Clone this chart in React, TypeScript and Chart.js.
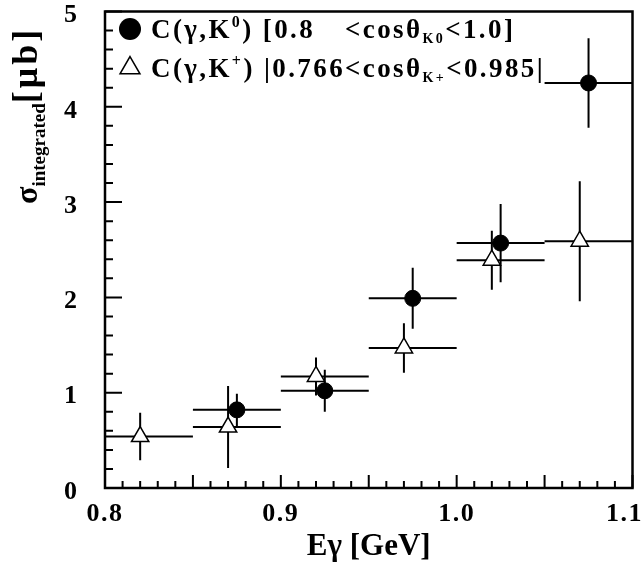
import React, { useEffect, useRef } from 'react';
import { Chart, registerables } from 'chart.js';

Chart.register(...registerables);

// ---- data ----
const K0_E = [0.875, 0.925, 0.975, 1.025, 1.075];
const K0_SIGMA = [0.82, 1.02, 1.99, 2.57, 4.25];
const K0_ERR = [0.17, 0.22, 0.32, 0.41, 0.47];
const K0_BIN_LO = [0.85, 0.9, 0.95, 1.0, 1.05];
const K0_BIN_HI = [0.9, 0.95, 1.0, 1.05, 1.1];

const KP_E = [0.82, 0.87, 0.92, 0.97, 1.02, 1.07];
const KP_SIGMA = [0.54, 0.64, 1.17, 1.47, 2.39, 2.59];
const KP_ERR = [0.25, 0.43, 0.2, 0.26, 0.31, 0.63];
const KP_BIN_LO = [0.8, 0.85, 0.9, 0.95, 1.0, 1.05];
const KP_BIN_HI = [0.85, 0.9, 0.95, 1.0, 1.05, 1.1];

const X_TICKS = [0.8, 0.9, 1.0, 1.1];
const X_TICK_LABELS = ['0.8', '0.9', '1.0', '1.1'];
const Y_TICK_LABELS = ['0', '1', '2', '3', '4', '5'];

const X_TITLE = 'Eγ [GeV]';
const Y_TITLE_MAIN = 'σ';
const Y_TITLE_SUB = 'integrated';
const Y_TITLE_UNIT = '[μb]';

const SERIF = '"Liberation Serif", "Times New Roman", serif';

type Run = { t: string; s: number; dy: number };

function drawRuns(ctx: CanvasRenderingContext2D, x: number, y: number, runs: Run[], spacing: number) {
  const xs: number[] = [];
  let cx = x;
  for (const r of runs) {
    xs.push(cx);
    ctx.font = `bold ${r.s}px ${SERIF}`;
    (ctx as any).letterSpacing = `${spacing}px`;
    ctx.fillText(r.t, cx, y + r.dy);
    cx += ctx.measureText(r.t).width;
  }
  xs.push(cx);
  (ctx as any).letterSpacing = '0px';
  return xs;
}

const errorBarPlugin = {
  id: 'errorBars',
  beforeDatasetsDraw(chart: any) {
    const { ctx } = chart;
    const xs = chart.scales.x;
    const ys = chart.scales.y;
    ctx.save();
    ctx.strokeStyle = '#000';
    ctx.lineWidth = 2;
    chart.data.datasets.forEach((ds: any) => {
      ds.data.forEach((p: any) => {
        const px = xs.getPixelForValue(p.x);
        const py = ys.getPixelForValue(p.y);
        ctx.beginPath();
        ctx.moveTo(xs.getPixelForValue(p.lo), py);
        ctx.lineTo(xs.getPixelForValue(p.hi), py);
        ctx.moveTo(px, ys.getPixelForValue(p.y - p.err));
        ctx.lineTo(px, ys.getPixelForValue(p.y + p.err));
        ctx.stroke();
      });
    });
    ctx.restore();
  },
};

const framePlugin = {
  id: 'frameDeco',
  afterDraw(chart: any) {
    const { ctx, chartArea: a } = chart;
    const xs = chart.scales.x;
    const ys = chart.scales.y;
    ctx.save();
    ctx.strokeStyle = '#000';
    // frame
    ctx.lineWidth = 2.5;
    ctx.strokeRect(a.left, a.top, a.right - a.left, a.bottom - a.top);
    // inward ticks
    ctx.lineWidth = 2;
    ctx.beginPath();
    for (let i = 80; i <= 110; i++) {
      const px = xs.getPixelForValue(i / 100);
      const len = i % 5 === 0 ? 13 : 7;
      ctx.moveTo(px, a.bottom);
      ctx.lineTo(px, a.bottom - len);
    }
    for (let i = 0; i <= 25; i++) {
      const py = ys.getPixelForValue(i / 5);
      const len = i % 5 === 0 ? 17 : 8;
      ctx.moveTo(a.left, py);
      ctx.lineTo(a.left + len, py);
    }
    ctx.stroke();

    // x tick labels
    ctx.fillStyle = '#000';
    ctx.font = `bold 26px ${SERIF}`;
    (ctx as any).letterSpacing = '1.5px';
    ctx.textAlign = 'center';
    ctx.textBaseline = 'alphabetic';
    X_TICKS.forEach((v, i) => {
      const label = X_TICK_LABELS[i];
      const w = ctx.measureText(label).width;
      let px = xs.getPixelForValue(v);
      px = Math.min(px, chart.width - w / 2 - 1);
      ctx.fillText(label, px, a.bottom + 33);
    });
    (ctx as any).letterSpacing = '0px';

    // y title (rotated, with subscript)
    ctx.save();
    ctx.translate(37, 204);
    ctx.rotate(-Math.PI / 2);
    ctx.textAlign = 'left';
    drawRuns(
      ctx,
      0,
      0,
      [
        { t: Y_TITLE_MAIN, s: 32, dy: 0 },
        { t: Y_TITLE_SUB, s: 19, dy: 8 },
      ],
      0
    );
    ctx.font = `bold 19px ${SERIF}`;
    const subW = ctx.measureText(Y_TITLE_SUB).width;
    ctx.font = `bold 32px ${SERIF}`;
    const sigW = ctx.measureText(Y_TITLE_MAIN).width;
    drawRuns(ctx, sigW + subW, 0, [{ t: Y_TITLE_UNIT, s: 36, dy: 0 }], 3);
    ctx.restore();

    // legend
    ctx.textAlign = 'left';
    const lx = 130;
    const r1 = 29;
    const r2 = 68;
    ctx.beginPath();
    ctx.arc(lx, r1, 11, 0, Math.PI * 2);
    ctx.fillStyle = '#000';
    ctx.fill();
    const tr = 11.5;
    ctx.beginPath();
    ctx.moveTo(lx, r2 - tr);
    ctx.lineTo(lx + tr * Math.sin((2 * Math.PI) / 3), r2 + tr / 2);
    ctx.lineTo(lx - tr * Math.sin((2 * Math.PI) / 3), r2 + tr / 2);
    ctx.closePath();
    ctx.fillStyle = '#fff';
    ctx.fill();
    ctx.lineWidth = 1.5;
    ctx.stroke();

    ctx.fillStyle = '#000';
    const F = 27;
    const sp = 2.4;
    const tx = 151;
    const b1 = r1 + 9;
    const b2 = r2 + 9;
    const row2 = drawRuns(
      ctx,
      tx,
      b2,
      [
        { t: 'C(γ,K', s: F, dy: 0 },
        { t: '+', s: 16, dy: -11 },
        { t: ') |0.766', s: F, dy: 0 },
        { t: '<cosθ', s: F, dy: 0 },
        { t: 'K+', s: 14, dy: 5 },
        { t: '<0.985|', s: F, dy: 0 },
      ],
      sp
    );
    drawRuns(
      ctx,
      tx,
      b1,
      [
        { t: 'C(γ,K', s: F, dy: 0 },
        { t: '0', s: 16, dy: -11 },
        { t: ') [0.8', s: F, dy: 0 },
      ],
      sp
    );
    drawRuns(
      ctx,
      row2[3],
      b1,
      [
        { t: '<cosθ', s: F, dy: 0 },
        { t: 'K0', s: 14, dy: 5 },
        { t: '<1.0]', s: F, dy: 0 },
      ],
      sp
    );
    ctx.restore();
  },
};

export default function App() {
  const ref = useRef<HTMLCanvasElement | null>(null);

  useEffect(() => {
    if (!ref.current) return;
    const k0 = K0_E.map((x, i) => ({ x, y: K0_SIGMA[i], err: K0_ERR[i], lo: K0_BIN_LO[i], hi: K0_BIN_HI[i] }));
    const kp = KP_E.map((x, i) => ({ x, y: KP_SIGMA[i], err: KP_ERR[i], lo: KP_BIN_LO[i], hi: KP_BIN_HI[i] }));
    const chart = new Chart(ref.current, {
      type: 'scatter',
      data: {
        datasets: [
          {
            label: 'C(γ,K0)',
            data: k0,
            pointStyle: 'circle',
            pointRadius: 8,
            pointBackgroundColor: '#000',
            pointBorderColor: '#000',
            pointBorderWidth: 1,
          },
          {
            label: 'C(γ,K+)',
            data: kp,
            pointStyle: 'triangle',
            pointRadius: 10,
            pointBackgroundColor: '#fff',
            pointBorderColor: '#000',
            pointBorderWidth: 1.5,
          },
        ],
      },
      options: {
        animation: false,
        responsive: false,
        devicePixelRatio: 1,
        layout: { padding: { top: 11, right: 11, left: 0, bottom: 0 } },
        plugins: { legend: { display: false }, tooltip: { enabled: false } },
        scales: {
          x: {
            type: 'linear',
            min: 0.8,
            max: 1.1,
            grid: { display: false, drawTicks: false },
            border: { display: false },
            ticks: { display: false },
            title: {
              display: true,
              text: X_TITLE,
              color: '#000',
              font: { family: SERIF, size: 31, weight: 'bold' },
              padding: { top: 0, bottom: 0 },
            },
            afterFit(s: any) {
              s.height = 78;
              s.paddingLeft = 0;
              s.paddingRight = 0;
            },
          },
          y: {
            type: 'linear',
            min: 0,
            max: 5,
            grid: { display: false, drawTicks: false },
            border: { display: false },
            ticks: {
              stepSize: 1,
              padding: 28,
              labelOffset: 4,
              color: '#000',
              font: { family: SERIF, size: 26, weight: 'bold' },
              callback: (v: any) => Y_TICK_LABELS[Math.round(Number(v))] ?? '',
            },
            afterFit(s: any) {
              s.width = 105;
              s.paddingTop = 0;
              s.paddingBottom = 0;
            },
          },
        },
      } as any,
      plugins: [errorBarPlugin, framePlugin],
    });
    return () => chart.destroy();
  }, []);

  return (
    <div style={{ position: 'absolute', left: 0, top: 0, width: 644, height: 566, background: '#fff' }}>
      <canvas ref={ref} width={644} height={566} style={{ display: 'block' }} />
    </div>
  );
}
